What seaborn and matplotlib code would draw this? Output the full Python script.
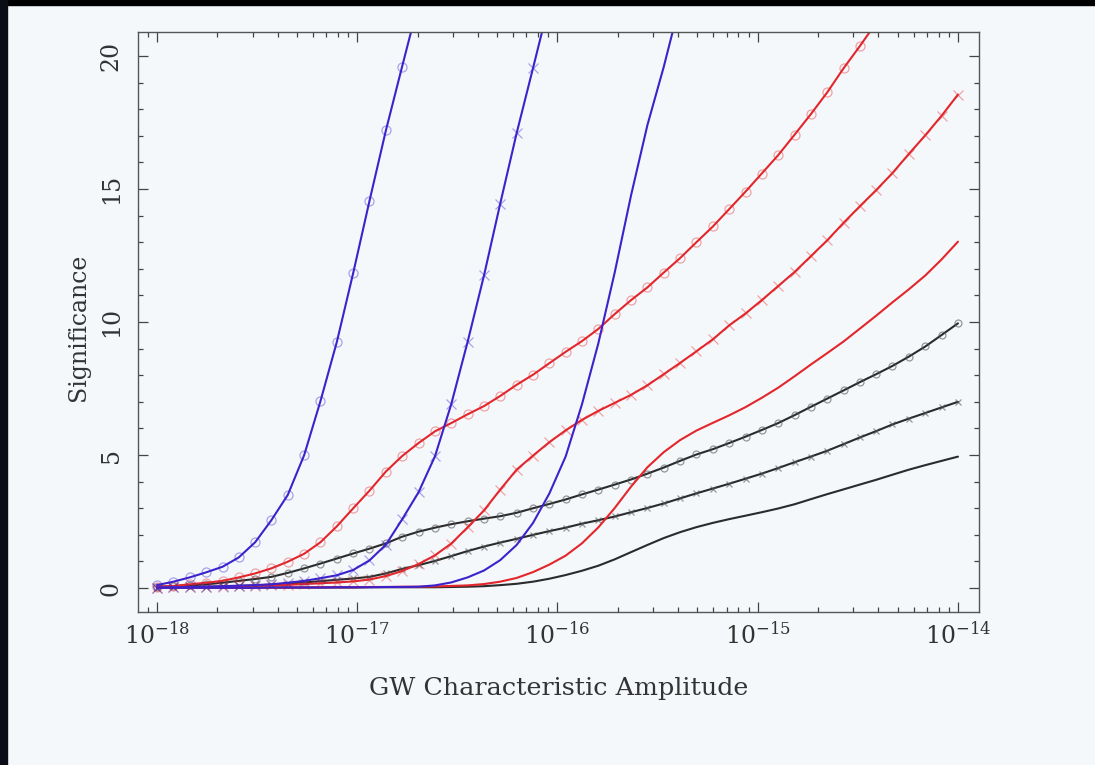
import numpy as np
import pandas as pd
import matplotlib
matplotlib.use("Agg")
import matplotlib.pyplot as plt
from matplotlib.colors import to_rgba
from matplotlib.patches import Rectangle
from matplotlib.ticker import MultipleLocator, LogLocator, NullFormatter, FixedLocator
import seaborn as sns

# ---- data: log10(GW characteristic amplitude) grid and significance curves ----
log_amp = [-18.000, -17.918, -17.837, -17.755, -17.673, -17.592, -17.510, -17.429,
           -17.347, -17.265, -17.184, -17.102, -17.020, -16.939, -16.857, -16.776,
           -16.694, -16.612, -16.531, -16.449, -16.367, -16.286, -16.204, -16.122,
           -16.041, -15.959, -15.878, -15.796, -15.714, -15.633, -15.551, -15.469,
           -15.388, -15.306, -15.224, -15.143, -15.061, -14.980, -14.898, -14.816,
           -14.735, -14.653, -14.571, -14.490, -14.408, -14.327, -14.245, -14.163,
           -14.082, -14.000]

blue_circles = [0.11, 0.24, 0.40, 0.59, 0.80, 1.15, 1.72, 2.55, 3.50, 5.00,
                7.02, 9.25, 11.85, 14.55, 17.2, 19.6, 22.0]
blue_crosses = [0.02, 0.03, 0.04, 0.05, 0.07, 0.09, 0.11, 0.14, 0.20, 0.27,
                0.37, 0.48, 0.68, 1.04, 1.63, 2.58, 3.6, 4.95, 6.9, 9.25,
                11.75, 14.45, 17.1, 19.55, 22.0]
blue_plain = [0.01, 0.01, 0.01, 0.01, 0.01, 0.01, 0.01, 0.02, 0.02, 0.02,
              0.02, 0.03, 0.03, 0.03, 0.04, 0.04, 0.05, 0.10, 0.21, 0.40,
              0.66, 1.05, 1.62, 2.45, 3.55, 4.95, 6.9, 9.2, 11.87, 14.75,
              17.4, 19.6, 22.0]

red_circles = [0.05, 0.08, 0.14, 0.20, 0.27, 0.40, 0.55, 0.74, 0.99, 1.29,
               1.72, 2.32, 3.0, 3.66, 4.38, 4.96, 5.45, 5.89, 6.2, 6.53,
               6.84, 7.22, 7.64, 8.02, 8.45, 8.88, 9.28, 9.74, 10.3, 10.82,
               11.3, 11.86, 12.4, 13.0, 13.59, 14.24, 14.9, 15.58, 16.27, 17.04,
               17.81, 18.63, 19.54, 20.37, 21.25]
red_crosses = [0.02, 0.03, 0.03, 0.04, 0.05, 0.06, 0.08, 0.10, 0.12, 0.15,
               0.18, 0.21, 0.25, 0.32, 0.45, 0.64, 0.90, 1.23, 1.67, 2.28,
               2.92, 3.7, 4.45, 4.98, 5.48, 5.93, 6.32, 6.66, 6.96, 7.26,
               7.62, 8.04, 8.46, 8.9, 9.35, 9.87, 10.32, 10.82, 11.35, 11.88,
               12.47, 13.07, 13.73, 14.35, 14.96, 15.6, 16.32, 17.02, 17.75, 18.55]
red_plain = [0.01, 0.01, 0.01, 0.01, 0.01, 0.01, 0.02, 0.02, 0.02, 0.02,
             0.03, 0.03, 0.03, 0.04, 0.04, 0.05, 0.05, 0.06, 0.08, 0.10,
             0.15, 0.24, 0.38, 0.60, 0.88, 1.22, 1.68, 2.28, 3.01, 3.81,
             4.54, 5.11, 5.56, 5.92, 6.21, 6.49, 6.8, 7.15, 7.53, 7.96,
             8.4, 8.83, 9.27, 9.75, 10.24, 10.74, 11.23, 11.75, 12.35, 13.02]

black_circles = [0.05, 0.07, 0.10, 0.14, 0.20, 0.27, 0.34, 0.42, 0.57, 0.74,
                 0.92, 1.11, 1.30, 1.48, 1.68, 1.93, 2.12, 2.27, 2.40, 2.51,
                 2.61, 2.70, 2.83, 3.0, 3.16, 3.33, 3.52, 3.70, 3.89, 4.08,
                 4.30, 4.53, 4.78, 5.02, 5.22, 5.45, 5.69, 5.94, 6.2, 6.5,
                 6.81, 7.12, 7.43, 7.74, 8.04, 8.35, 8.7, 9.08, 9.51, 9.95]
black_crosses = [0.02, 0.03, 0.04, 0.05, 0.06, 0.08, 0.10, 0.13, 0.17, 0.21,
                 0.26, 0.31, 0.36, 0.42, 0.55, 0.72, 0.86, 1.02, 1.20, 1.39,
                 1.56, 1.71, 1.85, 2.0, 2.14, 2.27, 2.42, 2.55, 2.69, 2.85,
                 3.01, 3.18, 3.37, 3.56, 3.74, 3.92, 4.11, 4.30, 4.51, 4.73,
                 4.94, 5.16, 5.41, 5.66, 5.90, 6.15, 6.37, 6.58, 6.79, 7.0]
black_plain = [0.01, 0.01, 0.01, 0.01, 0.01, 0.01, 0.01, 0.02, 0.02, 0.02,
               0.02, 0.02, 0.02, 0.03, 0.03, 0.03, 0.03, 0.03, 0.04, 0.05,
               0.07, 0.11, 0.16, 0.24, 0.35, 0.49, 0.65, 0.84, 1.08, 1.35,
               1.62, 1.88, 2.10, 2.29, 2.45, 2.59, 2.72, 2.85, 2.99, 3.15,
               3.34, 3.53, 3.71, 3.89, 4.07, 4.26, 4.45, 4.62, 4.78, 4.94]

x_tick_exps = [-18, -17, -16, -15, -14]
x_tick_labels = [r"$10^{-18}$", r"$10^{-17}$", r"$10^{-16}$", r"$10^{-15}$", r"$10^{-14}$"]
y_ticks = [0, 5, 10, 15, 20]

BLUE = "#3d22cc"
RED = "#e3262b"
BLACK = "#2b2b2b"
BG = "#f4f8fb"
TXT = "#333333"

curves = [
    (black_plain, BLACK, None),
    (black_crosses, BLACK, "x"),
    (black_circles, BLACK, "o"),
    (red_plain, RED, None),
    (red_crosses, RED, "x"),
    (red_circles, RED, "o"),
    (blue_plain, BLUE, None),
    (blue_crosses, BLUE, "x"),
    (blue_circles, BLUE, "o"),
]

sns.set_style("ticks")
plt.rcParams["font.family"] = ["DejaVu Serif"]
plt.rcParams["mathtext.fontset"] = "dejavuserif"

W, H = 1095, 765
fig = plt.figure(figsize=(W / 100, H / 100), dpi=100, facecolor=BG)
L, R, T, B = 138, 979, 32, 612
ax = fig.add_axes([L / W, 1 - B / H, (R - L) / W, (B - T) / H])
ax.set_facecolor(BG)

for vals, color, marker in curves:
    df = pd.DataFrame({"amp": [10.0 ** e for e in log_amp[:len(vals)]], "sig": vals})
    kw = dict(color=color, lw=1.5, estimator=None, sort=False, legend=False)
    if marker is not None:
        if color == BLACK:
            kw.update(marker=marker, ms=5, mfc="none",
                      mec=to_rgba("#555555", 0.6), mew=0.9)
        else:
            kw.update(marker=marker, ms=6.5, mfc="none",
                      mec=to_rgba(color, 0.4), mew=0.9)
    sns.lineplot(data=df, x="amp", y="sig", ax=ax, **kw)

ax.set_xscale("log")
ax.set_xlim(10 ** -18.095, 10 ** -13.895)
ax.set_ylim(-0.9, 20.9)

ax.xaxis.set_major_locator(FixedLocator([10.0 ** e for e in x_tick_exps]))
ax.set_xticklabels(x_tick_labels)
ax.xaxis.set_minor_locator(LogLocator(base=10, subs=np.arange(2, 10) * 1.0, numticks=30))
ax.xaxis.set_minor_formatter(NullFormatter())
ax.yaxis.set_major_locator(FixedLocator(y_ticks))
ax.set_yticklabels([str(v) for v in y_ticks])
ax.yaxis.set_minor_locator(MultipleLocator(1))

ax.tick_params(which="both", direction="in", top=True, right=True,
               color="#444444", width=0.9, labelcolor=TXT, labelsize=17)
ax.tick_params(which="major", length=7)
ax.tick_params(which="minor", length=3.5)
ax.tick_params(axis="x", pad=7)
ax.tick_params(axis="y", labelrotation=90, pad=11)
for lbl in ax.get_yticklabels():
    lbl.set_va("center")

for s in ax.spines.values():
    s.set_color("#555555")
    s.set_linewidth(1.0)

ax.set_xlabel("GW Characteristic Amplitude", fontsize=18.3, color=TXT)
ax.set_ylabel("Significance", fontsize=17, color=TXT)
ax.xaxis.set_label_coords(0.5, (B - 677) / (B - T))
ax.yaxis.set_label_coords((90 - L) / (R - L), (B - 327) / (B - T))

# screenshot border
fig.patches.append(Rectangle((0, 1 - 5 / H), 1, 5 / H, transform=fig.transFigure,
                             color="black", zorder=10))
fig.patches.append(Rectangle((0, 0), 7 / W, 1, transform=fig.transFigure,
                             color="#0b0d16", zorder=10))

fig.savefig("out.png", dpi=100, facecolor=BG)
